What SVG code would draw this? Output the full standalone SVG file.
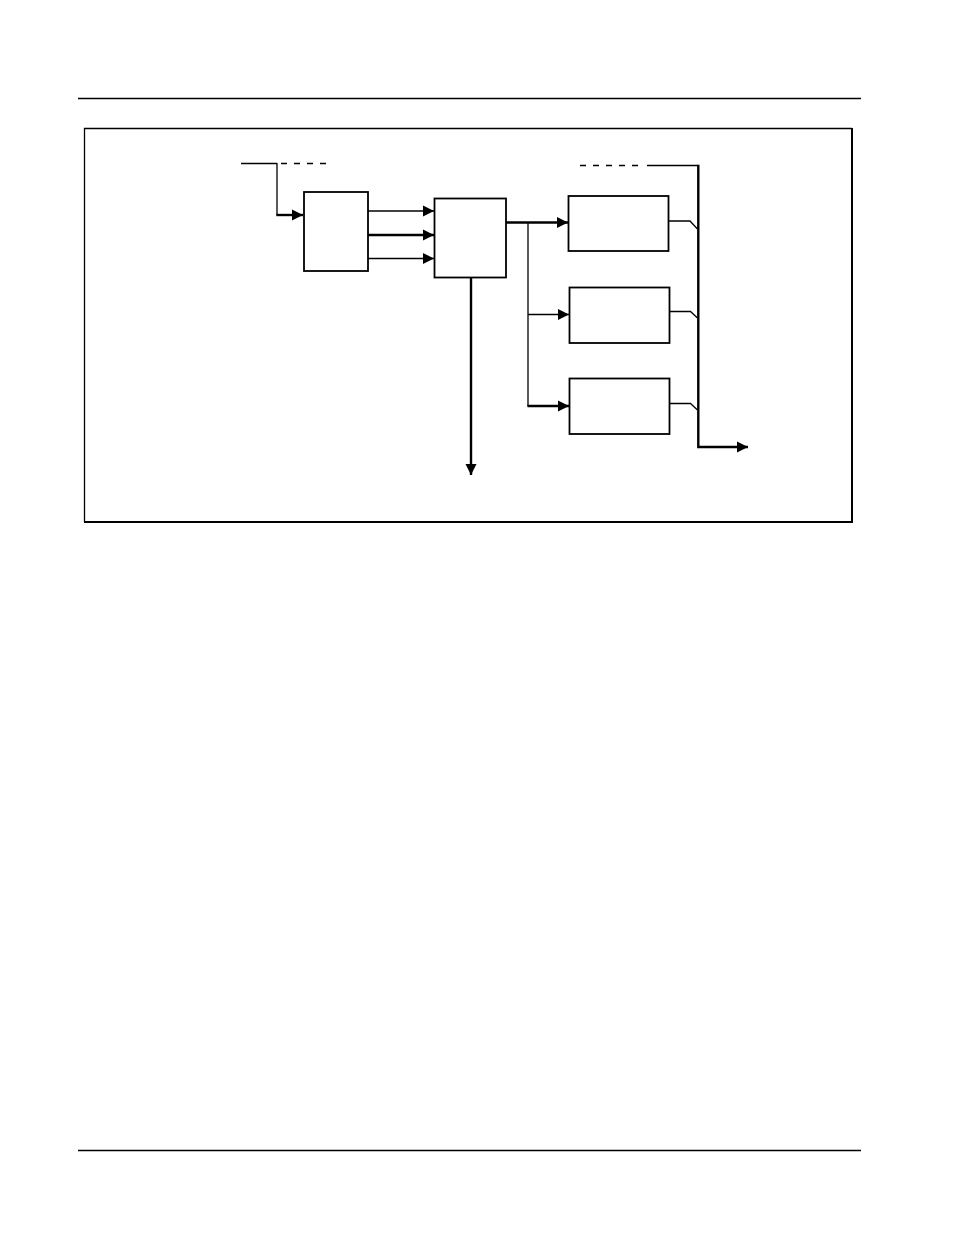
<svg xmlns="http://www.w3.org/2000/svg" width="954" height="1235" viewBox="0 0 954 1235">
<style>
.ln{fill:none;stroke:#000;stroke-width:1.3}
.thk{fill:none;stroke:#000;stroke-width:2.4}
.dash{fill:none;stroke:#000;stroke-width:1.3;stroke-dasharray:6 7}
.box{fill:#fff;stroke:#000;stroke-width:1.8}
</style>
<defs>
<marker id="ah" markerUnits="userSpaceOnUse" markerWidth="12" markerHeight="12" viewBox="0 0 12 12" refX="11" refY="6" orient="auto">
<path d="M0,0.5 L11,6 L0,11.5 Z" fill="#000"/>
</marker>
</defs>
<rect width="954" height="1235" fill="#fff"/>
<g id="page-rules">
<line class="ln" x1="78" y1="98.5" x2="861" y2="98.5"/>
<line class="ln" x1="78" y1="1150.5" x2="861" y2="1150.5"/>
</g>
<g id="frame">
<path class="ln" d="M84.5,522 V128.5 H852"/>
<path fill="none" stroke="#000" stroke-width="2" d="M852,128 V522 H84"/>
</g>
<g id="connectors">
<line class="ln" x1="241" y1="163.5" x2="277" y2="163.5"/>
<line class="dash" x1="281" y1="163.5" x2="331" y2="163.5"/>
<path class="ln" d="M277,163 V215"/>
<path class="thk" d="M276.3,215 H303" marker-end="url(#ah)"/>
<line class="ln" x1="368" y1="211" x2="434" y2="211" marker-end="url(#ah)"/>
<line class="thk" x1="368" y1="235" x2="434" y2="235" marker-end="url(#ah)"/>
<line class="ln" x1="368" y1="258.5" x2="434" y2="258.5" marker-end="url(#ah)"/>
<line class="thk" x1="506" y1="222.5" x2="568" y2="222.5" marker-end="url(#ah)"/>
<path class="ln" d="M528,222.5 V406"/>
<line class="ln" x1="528" y1="314.5" x2="569" y2="314.5" marker-end="url(#ah)"/>
<line class="thk" x1="527.4" y1="406" x2="569" y2="406" marker-end="url(#ah)"/>
<line class="thk" x1="471" y1="278" x2="471" y2="475" marker-end="url(#ah)"/>
<line class="dash" x1="580" y1="165.5" x2="639" y2="165.5"/>
<line class="ln" x1="647" y1="165.5" x2="698.3" y2="165.5"/>
<path class="thk" d="M698.3,164.8 V447 H748" marker-end="url(#ah)"/>
<path class="ln" d="M668,221 H690 L697.5,229"/>
<path class="ln" d="M669,311.5 H690.5 L697.5,318"/>
<path class="ln" d="M669,403.5 H690.5 L697.5,410"/>
</g>
<g id="node-1"><rect class="box" x="304" y="192" width="64" height="79"/></g>
<g id="node-2"><rect class="box" x="434.5" y="198.5" width="71.5" height="79"/></g>
<g id="node-3"><rect class="box" x="568.5" y="196" width="100" height="55"/></g>
<g id="node-4"><rect class="box" x="569.5" y="287.5" width="100" height="55.5"/></g>
<g id="node-5"><rect class="box" x="569.5" y="378.5" width="100" height="55.5"/></g>
</svg>
